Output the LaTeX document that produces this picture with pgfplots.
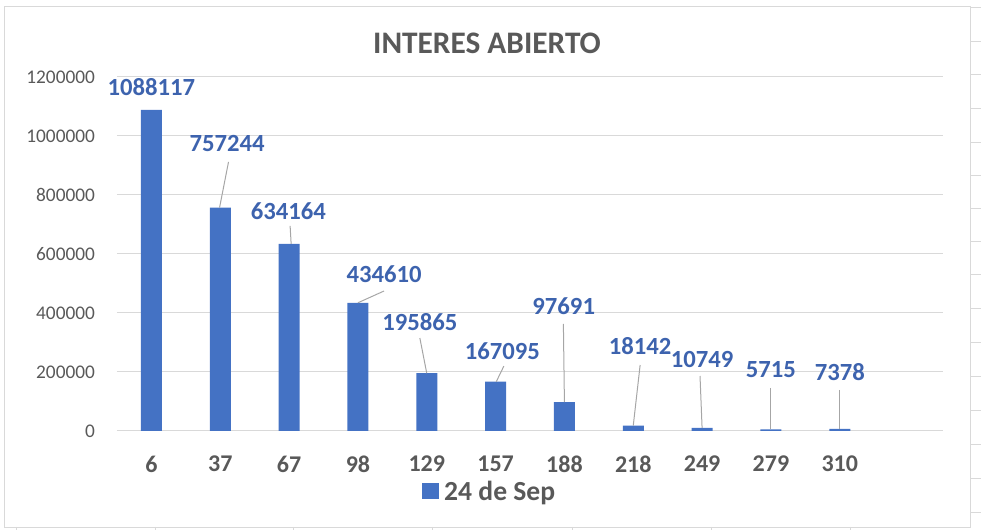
\documentclass[border=0pt]{standalone}
\usepackage{pgfplots}
\pgfplotsset{compat=1.18}
\usepackage{fontspec}
\setmainfont{Carlito}
\definecolor{barblue}{HTML}{4472C4}
\definecolor{lblblue}{HTML}{3D63AE}
\definecolor{txtgray}{HTML}{595959}
\definecolor{gridgray}{HTML}{D9D9D9}
\definecolor{leadgray}{HTML}{A6A6A6}

\begin{document}
\begin{tikzpicture}[
  lbl/.style={font=\bfseries\fontsize{18.5}{22}\selectfont, text=lblblue},
  ld/.style={leadgray, line width=0.75pt},
]
\useasboundingbox (0,0) rectangle (735.75pt,397.5pt);
% frame of the screenshot, in pixels from the top left
\begin{scope}[x=0.75pt,y=-0.75pt,yshift=397.5pt]
  \draw[gridgray] (4,6) rectangle (970,527);
  \foreach \yy in {7,41,74,108,142,175,208,241,274,308,342,376,410,444,478,512}
    \draw[gridgray] (970,\yy) -- (981,\yy);
  \foreach \xx in {16,155,293,432,572,711,850}
    \draw[gridgray] (\xx,527) -- (\xx,530);
  \node[font=\bfseries\fontsize{23.5}{28}\selectfont, text=txtgray] at (487,43) {INTERES ABIERTO};
\end{scope}

\begin{axis}[
  at={(87.75pt,74.25pt)}, anchor=south west,
  width=619.5pt, height=265.5pt, scale only axis,
  ybar, bar width=15.75pt,
  xmin=-0.5, xmax=11.5, ymin=0, ymax=1200000,
  enlargelimits=false, clip=false,
  xtick={0,...,10},
  xticklabels={6,37,67,98,129,157,188,218,249,279,310},
  ytick={0,200000,400000,600000,800000,1000000,1200000},
  scaled y ticks=false,
  /pgf/number format/assume math mode=true,
  yticklabel style={/pgf/number format/fixed,
    /pgf/number format/set thousands separator={},
    font=\fontsize{14.5}{17}\selectfont, text=txtgray, xshift=-13pt},
  xticklabel style={font=\bfseries\fontsize{18}{21}\selectfont, text=txtgray, yshift=-15pt},
  ymajorgrids, major grid style={gridgray, line width=0.75pt},
  axis line style={draw=none}, major tick length=0pt,
  legend style={at={(0.4516,-0.172)}, anchor=center, draw=none, fill=none,
    font=\bfseries\fontsize{20.7}{24}\selectfont, text=txtgray},
  legend image code/.code={\fill[barblue] (0pt,-5.5pt) rectangle (12.5pt,6.5pt);},
]
\addplot[fill=barblue, draw=none] coordinates {
  (0,1088117) (1,757244) (2,634164) (3,434610) (4,195865) (5,167095)
  (6,97691) (7,18142) (8,10749) (9,5715) (10,7378)};
\addlegendentry{\hspace{2pt}24 de Sep}

% data labels
\node[lbl] at (axis cs:0,1166100) {1088117};
\node[lbl] at (axis cs:1.10,972900) {757244};
\node[lbl] at (axis cs:1.99,745800) {634164};
\node[lbl] at (axis cs:3.38,532200) {434610};
\node[lbl] at (axis cs:3.90,369500) {195865};
\node[lbl] at (axis cs:5.10,271200) {167095};
\node[lbl] at (axis cs:5.99,423700) {97691};
\node[lbl] at (axis cs:7.10,288100) {18142};
\node[lbl] at (axis cs:8.00,240700) {10749};
\node[lbl] at (axis cs:9.00,206800) {5715};
\node[lbl] at (axis cs:10.00,200000) {7378};

% leader lines
\draw[ld] (axis cs:1.12,912000) -- (axis cs:0.99,757244);
\draw[ld] (axis cs:2.015,695000) -- (axis cs:2.03,634164);
\draw[ld] (axis cs:3.38,474600) -- (axis cs:3.0,434610);
\draw[ld] (axis cs:3.90,315000) -- (axis cs:4.0,195865);
\draw[ld] (axis cs:5.12,220000) -- (axis cs:5.01,167095);
\draw[ld] (axis cs:5.985,362700) -- (axis cs:6.0,97691);
\draw[ld] (axis cs:7.10,223700) -- (axis cs:7.0,18142);
\draw[ld] (axis cs:7.97,186400) -- (axis cs:8.0,10749);
\draw[ld] (axis cs:9.0,145800) -- (axis cs:9.0,5715);
\draw[ld] (axis cs:10.0,139000) -- (axis cs:10.0,7378);
\end{axis}
\end{tikzpicture}
\end{document}
